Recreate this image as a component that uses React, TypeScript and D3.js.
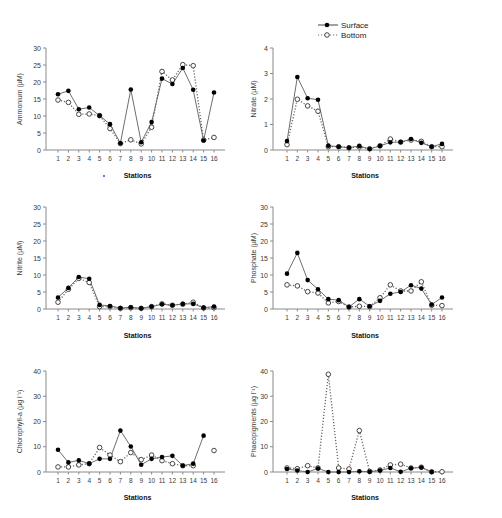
import React, { useEffect, useRef } from "react";
import * as d3 from "d3";

// station categories
const stations = ["1", "2", "3", "4", "5", "6", "7", "8", "9", "10", "11", "12", "13", "14", "15", "16"];

// values (null = no sample)
const ammoniumSurface = [16.4, 17.4, 12.0, 12.5, 10.1, 7.6, 2.0, 17.8, 2.3, 8.2, 21.0, 19.4, 24.1, 17.7, 2.8, 16.9];
const ammoniumBottom = [14.7, 14.0, 10.5, 10.6, 10.1, 6.3, 1.9, 3.0, 1.8, 6.7, 23.1, 20.6, 25.1, 24.8, 2.9, 3.7];

const nitrateSurface = [0.35, 2.86, 2.03, 1.97, 0.17, 0.13, 0.09, 0.16, 0.04, 0.16, 0.3, 0.31, 0.43, 0.28, 0.13, 0.24];
const nitrateBottom = [0.21, 1.99, 1.73, 1.52, 0.13, 0.13, 0.09, 0.12, 0.05, 0.16, 0.43, 0.31, 0.39, 0.34, 0.13, 0.13];

const nitriteSurface = [3.4, 6.2, 9.4, 8.9, 1.2, 0.9, 0.3, 0.5, 0.2, 0.7, 1.4, 1.1, 1.5, 1.5, 0.4, 0.7];
const nitriteBottom = [2.0, 5.8, 9.0, 7.8, 0.7, 0.7, 0.2, 0.4, 0.2, 0.7, 1.5, 1.1, 1.4, 2.0, 0.3, 0.4];

const phosphateSurface = [10.4, 16.5, 8.5, 5.8, 2.9, 2.6, 0.6, 2.9, 0.8, 2.4, 4.5, 5.0, 7.0, 6.0, 1.3, 3.4];
const phosphateBottom = [7.1, 6.8, 5.1, 4.7, 1.8, 2.2, 0.6, 0.8, 0.7, 3.3, 7.1, 5.3, 5.3, 8.0, 1.1, 1.0];

const chlSurface = [8.8, 3.8, 4.6, 3.3, 5.2, 5.2, 16.4, 10.1, 2.9, 5.2, 5.9, 6.4, 2.5, 3.3, 14.4, null];
const chlBottom = [2.0, 2.0, 2.8, 3.3, 9.7, 6.7, 4.1, 7.7, 4.9, 6.7, 4.5, 3.3, 2.5, 2.5, null, 8.5];

const phaeoSurface = [1.2, 0.6, 0.0, 1.4, 0.0, 0.0, 0.0, 0.3, 0.1, 0.6, 1.6, 0.1, 1.5, 1.8, 0.0, null];
const phaeoBottom = [1.6, 1.3, 2.5, 1.6, 38.7, 1.6, 1.2, 16.4, 0.2, 0.8, 2.8, 3.1, 1.6, 1.9, 0.1, 0.1];

const ticks30 = [0, 5, 10, 15, 20, 25, 30];
const ticks4 = [0, 1, 2, 3, 4];
const ticks40 = [0, 10, 20, 30, 40];

const legendLabels = ["Surface", "Bottom"];

type Val = number | null;

interface PanelSpec {
  label: string;
  surface: Val[];
  bottom: Val[];
  ticks: number[];
  col: number;
  row: number;
}

const panels: PanelSpec[] = [
  { label: "Ammonium (µM)", surface: ammoniumSurface, bottom: ammoniumBottom, ticks: ticks30, col: 0, row: 0 },
  { label: "Nitrate (µM)", surface: nitrateSurface, bottom: nitrateBottom, ticks: ticks4, col: 1, row: 0 },
  { label: "Nitrite (µM)", surface: nitriteSurface, bottom: nitriteBottom, ticks: ticks30, col: 0, row: 1 },
  { label: "Phosphate (µM)", surface: phosphateSurface, bottom: phosphateBottom, ticks: ticks30, col: 1, row: 1 },
  { label: "Chlorophyll-a (µg l⁻¹)", surface: chlSurface, bottom: chlBottom, ticks: ticks40, col: 0, row: 2 },
  { label: "Phaeopigments (µg l⁻¹)", surface: phaeoSurface, bottom: phaeoBottom, ticks: ticks40, col: 1, row: 2 },
];

// layout of the 3x2 grid
const cols = [
  { axis: 46, first: 58, last: 214, end: 225, ylab: 22 },
  { axis: 273, first: 287, last: 442, end: 453, ylab: 256 },
];
const rows = [
  { top: 48, bottom: 150, tickY: 161, titleY: 178 },
  { top: 207, bottom: 309, tickY: 320, titleY: 338 },
  { top: 371, bottom: 472, tickY: 483, titleY: 500 },
];

const FONT = "'Liberation Sans', Arial, sans-serif";
const TEXT = "#3a3a3a";
const AXIS = "#8a8a8a";

const App: React.FC = () => {
  const svgRef = useRef<SVGSVGElement>(null);

  useEffect(() => {
    if (!svgRef.current) return;
    const svg = d3.select(svgRef.current);
    svg.selectAll("*").remove();

    panels.forEach((p) => {
      const c = cols[p.col];
      const r = rows[p.row];
      const g = svg.append("g");

      const x = d3.scalePoint<string>().domain(stations).range([c.first, c.last]);
      const y = d3.scaleLinear().domain([0, p.ticks[p.ticks.length - 1]]).range([r.bottom, r.top]);

      // axes
      g.append("line")
        .attr("x1", c.axis).attr("x2", c.axis)
        .attr("y1", r.top).attr("y2", r.bottom)
        .attr("stroke", AXIS).attr("stroke-width", 1);
      g.append("line")
        .attr("x1", c.axis).attr("x2", c.end)
        .attr("y1", r.bottom).attr("y2", r.bottom)
        .attr("stroke", AXIS).attr("stroke-width", 1);

      p.ticks.forEach((t) => {
        g.append("line")
          .attr("x1", c.axis - 3).attr("x2", c.axis)
          .attr("y1", y(t)).attr("y2", y(t))
          .attr("stroke", AXIS);
        g.append("text")
          .attr("x", c.axis - 5).attr("y", y(t) + 2.5)
          .attr("text-anchor", "end")
          .attr("font-size", 7).attr("font-family", FONT).attr("fill", TEXT)
          .text(t);
      });

      stations.forEach((s) => {
        g.append("line")
          .attr("x1", x(s)!).attr("x2", x(s)!)
          .attr("y1", r.bottom).attr("y2", r.bottom + 2.5)
          .attr("stroke", AXIS);
        g.append("text")
          .attr("x", x(s)!).attr("y", r.tickY)
          .attr("text-anchor", "middle")
          .attr("font-size", 6.5).attr("font-family", FONT).attr("fill", TEXT)
          .text(s);
      });

      // titles
      g.append("text")
        .attr("transform", `translate(${c.ylab},${(r.top + r.bottom) / 2}) rotate(-90)`)
        .attr("text-anchor", "middle")
        .attr("font-size", 7).attr("font-family", FONT).attr("fill", TEXT)
        .text(p.label);
      g.append("text")
        .attr("x", (c.axis + c.end) / 2 + 2).attr("y", r.titleY)
        .attr("text-anchor", "middle")
        .attr("font-size", 7).attr("font-weight", "bold").attr("font-family", FONT).attr("fill", "#111")
        .text("Stations");

      const line = d3.line<Val>()
        .defined((d) => d != null)
        .x((_, i) => x(stations[i])!)
        .y((d) => y(d as number));

      // bottom: dotted line, open circles
      g.append("path")
        .datum(p.bottom)
        .attr("fill", "none")
        .attr("stroke", "#666")
        .attr("stroke-width", 1.3)
        .attr("stroke-dasharray", "1.2,1.8")
        .attr("d", line);

      // surface: solid line, filled circles
      g.append("path")
        .datum(p.surface)
        .attr("fill", "none")
        .attr("stroke", "#6e6e6e")
        .attr("stroke-width", 1)
        .attr("d", line);

      g.selectAll(".bot")
        .data(p.bottom.map((v, i) => ({ v, i })).filter((d) => d.v != null))
        .enter().append("circle")
        .attr("cx", (d) => x(stations[d.i])!)
        .attr("cy", (d) => y(d.v as number))
        .attr("r", 2.3)
        .attr("fill", "#fff")
        .attr("stroke", "#333")
        .attr("stroke-width", 0.9);

      g.selectAll(".surf")
        .data(p.surface.map((v, i) => ({ v, i })).filter((d) => d.v != null))
        .enter().append("circle")
        .attr("cx", (d) => x(stations[d.i])!)
        .attr("cy", (d) => y(d.v as number))
        .attr("r", 2.3)
        .attr("fill", "#000");
    });

    // stray blue dot under the first panel
    svg.append("circle").attr("cx", 104).attr("cy", 176).attr("r", 0.9).attr("fill", "#2233cc");

    // legend
    const lg = svg.append("g");
    legendLabels.forEach((lab, i) => {
      const yy = 25 + i * 10;
      lg.append("line")
        .attr("x1", 318).attr("x2", 338).attr("y1", yy).attr("y2", yy)
        .attr("stroke", i === 0 ? "#444" : "#777")
        .attr("stroke-width", i === 0 ? 1 : 1.2)
        .attr("stroke-dasharray", i === 0 ? null : "1.2,1.8");
      lg.append("circle")
        .attr("cx", 327).attr("cy", yy).attr("r", 2.3)
        .attr("fill", i === 0 ? "#000" : "#fff")
        .attr("stroke", i === 0 ? "none" : "#333")
        .attr("stroke-width", 0.9);
      lg.append("text")
        .attr("x", 341).attr("y", yy + 3)
        .attr("font-size", 8).attr("font-family", FONT).attr("fill", "#222")
        .text(lab);
    });
  }, []);

  return (
    <svg
      ref={svgRef}
      width={502}
      height={518}
      style={{ position: "absolute", left: 0, top: 0, background: "#fff" }}
    />
  );
};

export default App;
